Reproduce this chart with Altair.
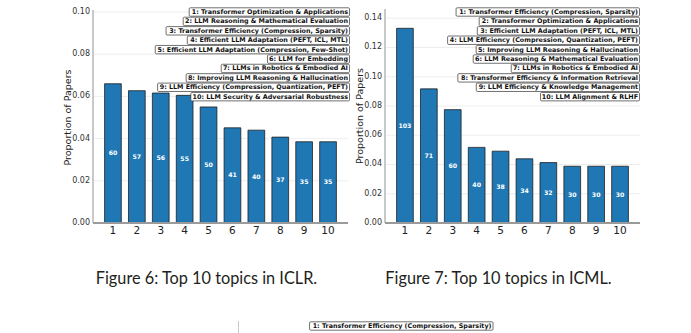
import altair as alt
import pandas as pd

# ---------------- data ----------------
ranks = [str(i) for i in range(1, 11)]

iclr_counts = [60, 57, 56, 55, 50, 41, 40, 37, 35, 35]
iclr_props = [0.0660, 0.0627, 0.0616, 0.0605, 0.0550, 0.0451, 0.0440, 0.0407, 0.0385, 0.0385]
iclr_topics = [
    "1: Transformer Optimization & Applications",
    "2: LLM Reasoning & Mathematical Evaluation",
    "3: Transformer Efficiency (Compression, Sparsity)",
    "4: Efficient LLM Adaptation (PEFT, ICL, MTL)",
    "5: Efficient LLM Adaptation (Compression, Few-Shot)",
    "6: LLM for Embedding",
    "7: LLMs in Robotics & Embodied AI",
    "8: Improving LLM Reasoning & Hallucination",
    "9: LLM Efficiency (Compression, Quantization, PEFT)",
    "10: LLM Security & Adversarial Robustness",
]
iclr_yticks = [0.00, 0.02, 0.04, 0.06, 0.08, 0.10]

icml_counts = [103, 71, 60, 40, 38, 34, 32, 30, 30, 30]
icml_props = [0.1331, 0.0917, 0.0775, 0.0517, 0.0491, 0.0439, 0.0413, 0.0388, 0.0388, 0.0388]
icml_topics = [
    "1: Transformer Efficiency (Compression, Sparsity)",
    "2: Transformer Optimization & Applications",
    "3: Efficient LLM Adaptation (PEFT, ICL, MTL)",
    "4: LLM Efficiency (Compression, Quantization, PEFT)",
    "5: Improving LLM Reasoning & Hallucination",
    "6: LLM Reasoning & Mathematical Evaluation",
    "7: LLMs in Robotics & Embodied AI",
    "8: Transformer Efficiency & Information Retrieval",
    "9: LLM Efficiency & Knowledge Management",
    "10: LLM Alignment & RLHF",
]
icml_yticks = [0.00, 0.02, 0.04, 0.06, 0.08, 0.10, 0.12, 0.14]

captions = ["Figure 6: Top 10 topics in ICLR.", "Figure 7: Top 10 topics in ICML."]
next_topics = ["1: Transformer Efficiency (Compression, Sparsity)"]
y_title = "Proportion of Papers"

# ---------------- layout / style ----------------
W, H = 691, 333
BOT = 223
BLUE = "#1f77b4"
FONT = "DejaVu Sans"
LEG_FS = 6.4
LEG_PAD = 1.5
ROW0 = 12.0
ROW_STEP = 9.41
BOX_H = 8.4

# DejaVu Sans Bold advance widths (em) for box sizing
BW = {' ': .348, '&': .873, '(': .457, ')': .457, ',': .380, '-': .415, '.': .380, ':': .400,
      'A': .774, 'B': .762, 'C': .734, 'D': .830, 'E': .683, 'F': .632, 'G': .821, 'H': .837,
      'I': .373, 'K': .775, 'L': .637, 'M': .995, 'N': .837, 'O': .851, 'P': .733, 'Q': .851,
      'R': .770, 'S': .722, 'T': .685, 'U': .812, 'V': .774, 'W': 1.108, 'Y': .726,
      'a': .675, 'b': .716, 'c': .593, 'd': .716, 'e': .678, 'f': .435, 'g': .716, 'h': .712,
      'i': .343, 'j': .343, 'k': .665, 'l': .343, 'm': 1.042, 'n': .712, 'o': .687, 'p': .716,
      'q': .716, 'r': .493, 's': .595, 't': .478, 'u': .712, 'v': .652, 'w': .924, 'x': .645,
      'y': .652, 'z': .586}
for d in "0123456789":
    BW[d] = .696


def text_w(s, fs):
    return sum(BW.get(c, .68) for c in s) * fs


def legend_layer(topics, right, row0=ROW0):
    rows = []
    for i, t in enumerate(topics):
        w = text_w(t, LEG_FS) + 2 * LEG_PAD
        yc = row0 + i * ROW_STEP
        rows.append({"t": t, "xl": right - w, "xr": right, "xt": right - LEG_PAD,
                     "yc": yc, "yt": yc - BOX_H / 2, "yb": yc + BOX_H / 2})
    df = pd.DataFrame(rows)
    boxes = alt.Chart(df).mark_rect(fill="white", stroke="#333", strokeWidth=0.7,
                                    cornerRadius=1).encode(
        x=alt.X("xl:Q", scale=None, axis=None), x2="xr:Q",
        y=alt.Y("yt:Q", scale=None, axis=None), y2="yb:Q")
    texts = alt.Chart(df).mark_text(font=FONT, fontWeight="bold", fontSize=LEG_FS,
                                    align="right", baseline="middle", color="#111").encode(
        x=alt.X("xt:Q", scale=None, axis=None),
        y=alt.Y("yc:Q", scale=None, axis=None), text="t:N")
    return [boxes, texts]


def panel(props, counts, x0, x1, ytop, spine_top, ymax, yticks):
    df = pd.DataFrame({"rank": ranks, "prop": props, "count": counts})
    tdf = pd.DataFrame({"v": yticks})
    xs = alt.Scale(type="band", domain=ranks, range=[x0, x1], paddingInner=0.3, paddingOuter=0.485)
    ys = alt.Scale(domain=[0, ymax], range=[BOT, ytop], nice=False, zero=True)

    grid = alt.Chart(tdf).mark_rule(color="#e8e8e8", strokeWidth=0.8).encode(
        y=alt.Y("v:Q", scale=ys, axis=None), x=alt.value(x0), x2=alt.value(x1))
    ylabels = alt.Chart(tdf).mark_text(font=FONT, fontSize=8, color="#333", align="right",
                                       baseline="middle").encode(
        y=alt.Y("v:Q", scale=ys, axis=None), x=alt.value(x0 - 3),
        text=alt.Text("v:Q", format=".2f"))
    bars = alt.Chart(df).mark_bar(color=BLUE, stroke="#1a1a1a", strokeWidth=0.9,
                                  strokeOpacity=0.85).encode(
        x=alt.X("rank:O", scale=xs, sort=ranks, axis=None),
        y=alt.Y("prop:Q", scale=ys, axis=None))
    labels = alt.Chart(df).transform_calculate(mid="datum.prop / 2").mark_text(
        font=FONT, fontWeight="bold", fontSize=6.2, color="white", baseline="middle").encode(
        x=alt.X("rank:O", scale=xs, sort=ranks, axis=None),
        y=alt.Y("mid:Q", scale=ys, axis=None),
        text="count:Q")
    xlabels = alt.Chart(df).mark_text(font=FONT, fontSize=10.5, color="#222",
                                      baseline="top").encode(
        x=alt.X("rank:O", scale=xs, sort=ranks, axis=None), y=alt.value(BOT + 2.5),
        text="rank:N")
    yspine = alt.Chart(tdf).mark_rule(color="#c8c8c8", strokeWidth=1).encode(
        x=alt.value(x0), y=alt.value(spine_top), y2=alt.value(BOT))
    xspine = alt.Chart(tdf).mark_rule(color="#9a9a9a", strokeWidth=1).encode(
        y=alt.value(BOT), x=alt.value(x0), x2=alt.value(x1))
    ytitle = alt.Chart(pd.DataFrame({"t": [y_title]})).mark_text(
        font=FONT, fontSize=9.5, color="#222", angle=270, align="center",
        baseline="middle").encode(
        x=alt.value(x0 - 25), y=alt.value((BOT + ytop) / 2), text="t:N")
    return alt.layer(grid, bars, labels, yspine, xspine, ylabels, xlabels, ytitle)


left = panel(iclr_props, iclr_counts, 93, 348, 12, 10, 0.10, iclr_yticks)
right = panel(icml_props, icml_counts, 385, 640, 9, 9, 0.1463, icml_yticks)

cap_l = alt.Chart(pd.DataFrame({"c": [captions[0]]})).mark_text(
    font="Lato", fontSize=16.3, color="#231f20", align="center", baseline="middle").encode(
    x=alt.value(206.5), y=alt.value(278.5), text="c:N")
cap_r = alt.Chart(pd.DataFrame({"c": [captions[1]]})).mark_text(
    font="Lato", fontSize=16.3, color="#231f20", align="center", baseline="middle").encode(
    x=alt.value(498.5), y=alt.value(278.5), text="c:N")

spine3 = alt.Chart(pd.DataFrame({"a": [0]})).mark_rule(color="#c8c8c8", strokeWidth=1).encode(
    x=alt.value(238.5), y=alt.value(321), y2=alt.value(333))

layers = [left, right, cap_l, cap_r, spine3]
layers += legend_layer(iclr_topics, 349.5)
layers += legend_layer(icml_topics, 639.5)
layers += legend_layer(next_topics, 493, row0=326)

chart = alt.layer(*layers).resolve_scale(x="independent", y="independent").properties(
    width=W, height=H, autosize=alt.AutoSizeParams(type="none"), padding=0,
    background="white").configure_view(stroke=None)

chart.save("out.html", embed_options={"renderer": "svg", "actions": False})
